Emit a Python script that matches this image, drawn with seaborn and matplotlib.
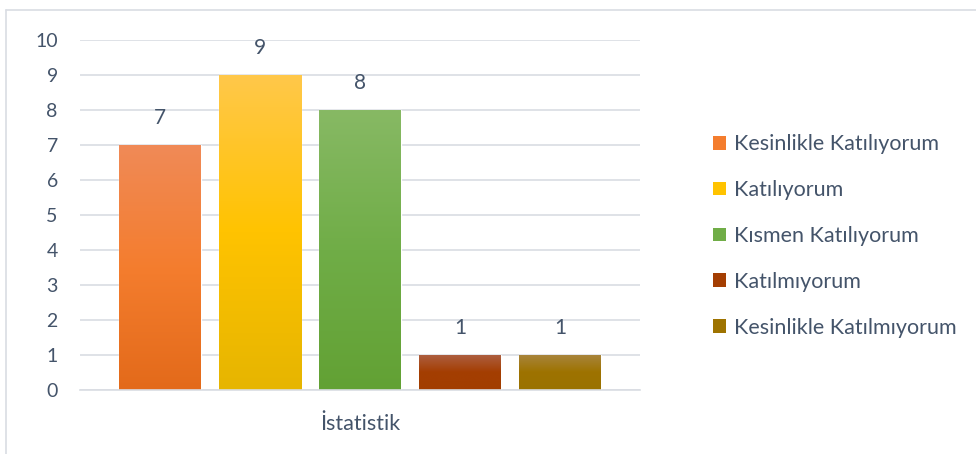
import numpy as np
import pandas as pd
import matplotlib
matplotlib.use("Agg")
import matplotlib.pyplot as plt
import matplotlib.colors as mcolors
from matplotlib.patches import Patch
import seaborn as sns

# Veriler
kategori = ["İstatistik"]
yanitlar = ["Kesinlikle Katılıyorum", "Katılıyorum", "Kısmen Katılıyorum",
            "Katılmıyorum", "Kesinlikle Katılmıyorum"]
sayilar = [7, 9, 8, 1, 1]
renkler = ["#F47D2E", "#FFC300", "#70AD47", "#A43E02", "#9E7300"]
ust_renkler = ["#F08A57", "#FFC84A", "#87B964", "#AD6042", "#A8853F"]
alt_renkler = ["#E36A1A", "#E6B500", "#62A134", "#A23E00", "#9A7200"]

metin_renk = "#44546A"

df = pd.DataFrame({"Kategori": kategori * len(yanitlar),
                   "Yanit": yanitlar, "Sayi": sayilar})

sns.set_style("white")
plt.rcParams["font.family"] = ["Lato", "DejaVu Sans"]

fig = plt.figure(figsize=(9.76, 4.54), dpi=100)
ax = fig.add_axes([80 / 976, 1 - 390 / 454, 560 / 976, 350 / 454])

sns.barplot(data=df, x="Kategori", y="Sayi", hue="Yanit", hue_order=yanitlar,
            palette=renkler, width=500 / 560, gap=0.18, ax=ax, legend=False,
            saturation=1)

# degrade dolgu
bars = [p for p in ax.patches if p.get_height() > 0]
for bar, ust, alt in zip(bars, ust_renkler, alt_renkler):
    x0, y0 = bar.get_x(), bar.get_y()
    w, h = bar.get_width(), bar.get_height()
    cmap = mcolors.LinearSegmentedColormap.from_list("g", [alt, bar.get_facecolor(), ust])
    grad = np.linspace(0, 1, 256).reshape(-1, 1)
    im = ax.imshow(grad, cmap=cmap, origin="lower", aspect="auto",
                   extent=[x0, x0 + w, y0, y0 + h], zorder=bar.get_zorder())
    im.set_clip_path(bar)
    ax.text(x0 + w / 2, y0 + h + 0.77, str(int(h)), ha="center", va="center",
            fontsize=15, color=metin_renk)
ax.set_xlim(-0.5, 0.5)
ax.set_ylim(0, 10)
ax.set_yticks(range(0, 11))

ax.yaxis.grid(True, color="#D9DDE3", linewidth=1.2)
ax.set_axisbelow(True)
for s in ax.spines.values():
    s.set_visible(False)
ax.spines["bottom"].set_visible(True)
ax.spines["bottom"].set_color("#D9DDE3")
ax.spines["bottom"].set_linewidth(1.2)
ax.tick_params(axis="y", length=0, labelsize=14, colors=metin_renk, pad=16)
ax.tick_params(axis="x", length=0, labelsize=15.5, colors=metin_renk, pad=17)
ax.set_xlabel("")
ax.set_ylabel("")

# lejant
handles = [Patch(facecolor=c, edgecolor="none") for c in renkler]
fig.legend(handles, yanitlar, loc="center left",
           bbox_to_anchor=(694 / 976, 1 - 236 / 454),
           frameon=False, fontsize=15.5, labelcolor=metin_renk, handlelength=0.6,
           handleheight=0.6, handletextpad=0.37, labelspacing=1.2)

# dis cerceve
fig.add_artist(plt.Line2D([6 / 976, 1], [1 - 10 / 454] * 2, color="#D9DDE3", lw=1.2))
fig.add_artist(plt.Line2D([6 / 976] * 2, [0, 1 - 10 / 454], color="#D9DDE3", lw=1.2))

fig.savefig("out.png", dpi=100)
